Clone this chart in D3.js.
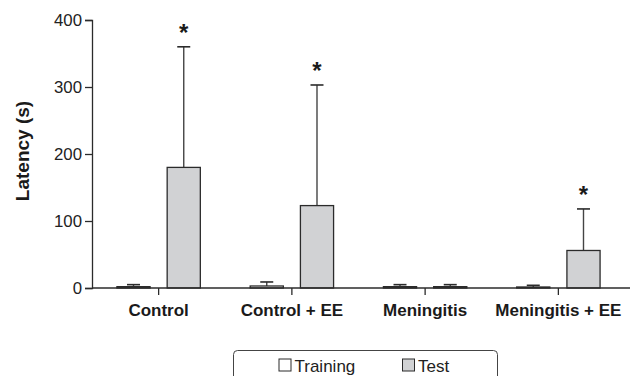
<!DOCTYPE html>
<html>
<head>
<meta charset="utf-8">
<script src="https://cdn.jsdelivr.net/npm/d3@7"></script>
<style>
  html, body { margin: 0; padding: 0; background: #fff; }
  svg { display: block; font-family: "Liberation Sans", Arial, Helvetica, sans-serif; }
</style>
</head>
<body>
<svg id="chart" width="630" height="376"></svg>
<script>
// Latency per group: mean and upper error for training and test sessions
const groups = ["Control", "Control + EE", "Meningitis", "Meningitis + EE"];
const series = ["Training", "Test"];
const trainingMean = [2, 3, 2, 1.5];
const trainingErr = [5, 9, 5, 4];
const testMean = [180, 123, 2, 56];
const testErr = [360, 303, 5, 118];
const trainingSig = [false, false, false, false];
const testSig = [true, true, false, true];
const yTicks = [0, 100, 200, 300, 400];

const svg = d3.select("#chart");
const ink = "#2b2b2b";

const x = d3.scaleBand().domain(groups).range([92, 625]);
const sub = d3.scaleBand().domain(series).range([-41.7, 41.7]).paddingInner(0.34);
const y = d3.scaleLinear().domain([0, 400]).range([288, 20]);

const groupCenter = g => x(g) + x.bandwidth() / 2;

const rows = [];
groups.forEach((g, i) => {
  rows.push({ group: g, s: "Training", mean: trainingMean[i], err: trainingErr[i], star: trainingSig[i] });
  rows.push({ group: g, s: "Test", mean: testMean[i], err: testErr[i], star: testSig[i] });
});
const fill = { Training: "#ffffff", Test: "#d1d2d4" };
const barCenter = d => groupCenter(d.group) + sub(d.s) + sub.bandwidth() / 2;

// error bars (drawn behind bars)
const eb = svg.append("g");
rows.forEach(d => {
  const cx = barCenter(d);
  eb.append("line").attr("x1", cx).attr("x2", cx)
    .attr("y1", y(d.mean)).attr("y2", y(d.err))
    .attr("stroke", "#444").attr("stroke-width", 1.4);
  eb.append("line").attr("x1", cx - 6.5).attr("x2", cx + 6.5)
    .attr("y1", y(d.err)).attr("y2", y(d.err))
    .attr("stroke", ink).attr("stroke-width", 1.6);
});

// bars
svg.append("g").selectAll("rect").data(rows).join("rect")
  .attr("x", d => groupCenter(d.group) + sub(d.s))
  .attr("width", sub.bandwidth())
  .attr("y", d => y(d.mean))
  .attr("height", d => y(0) - y(d.mean))
  .attr("fill", d => fill[d.s])
  .attr("stroke", ink).attr("stroke-width", 1.3);

// significance markers
svg.append("g").selectAll("text").data(rows.filter(d => d.star)).join("text")
  .attr("x", barCenter)
  .attr("y", d => y(d.err) - 6)
  .attr("text-anchor", "middle")
  .attr("font-size", 24).attr("font-weight", "bold").attr("fill", "#1a1a1a")
  .text("*");

// y axis
const yAxis = svg.append("g").attr("transform", "translate(92,0)")
  .call(d3.axisLeft(y).tickValues(yTicks).tickSize(7).tickPadding(3));
yAxis.select(".domain").attr("stroke", ink).attr("stroke-width", 1.3);
yAxis.selectAll(".tick line").attr("stroke", ink).attr("stroke-width", 1.3);
yAxis.selectAll(".tick text").attr("font-size", 16.8).attr("fill", "#222")
  .attr("font-family", "Liberation Sans, Arial, sans-serif");

// x axis
const xAxis = svg.append("g").attr("transform", "translate(0,288)")
  .call(d3.axisBottom(x).tickSize(7).tickPadding(9).tickSizeOuter(0));
xAxis.select(".domain").attr("d", "M92,0H630").attr("stroke", ink).attr("stroke-width", 1.3);
xAxis.selectAll(".tick line").attr("stroke", ink).attr("stroke-width", 1.3);
xAxis.selectAll(".tick text").attr("font-size", 17).attr("font-weight", "bold").attr("fill", "#1a1a1a")
  .attr("font-family", "Liberation Sans, Arial, sans-serif");

// y axis title
svg.append("text")
  .attr("transform", "translate(29,151) rotate(-90)")
  .attr("text-anchor", "middle")
  .attr("font-size", 19).attr("font-weight", "bold").attr("fill", "#1a1a1a")
  .text("Latency (s)");

// legend
const legend = svg.append("g");
legend.append("rect").attr("x", 233.5).attr("y", 350.5).attr("width", 264).attr("height", 40)
  .attr("rx", 4).attr("fill", "#fff").attr("stroke", "#444").attr("stroke-width", 1);
const legendX = [279, 402.5];
series.forEach((s, i) => {
  legend.append("rect").attr("x", legendX[i]).attr("y", 359).attr("width", 12).attr("height", 12)
    .attr("fill", fill[s]).attr("stroke", ink).attr("stroke-width", 1);
  legend.append("text").attr("x", legendX[i] + 15.5).attr("y", 371.5)
    .attr("font-size", 17).attr("fill", "#222").text(s);
});
</script>
</body>
</html>
